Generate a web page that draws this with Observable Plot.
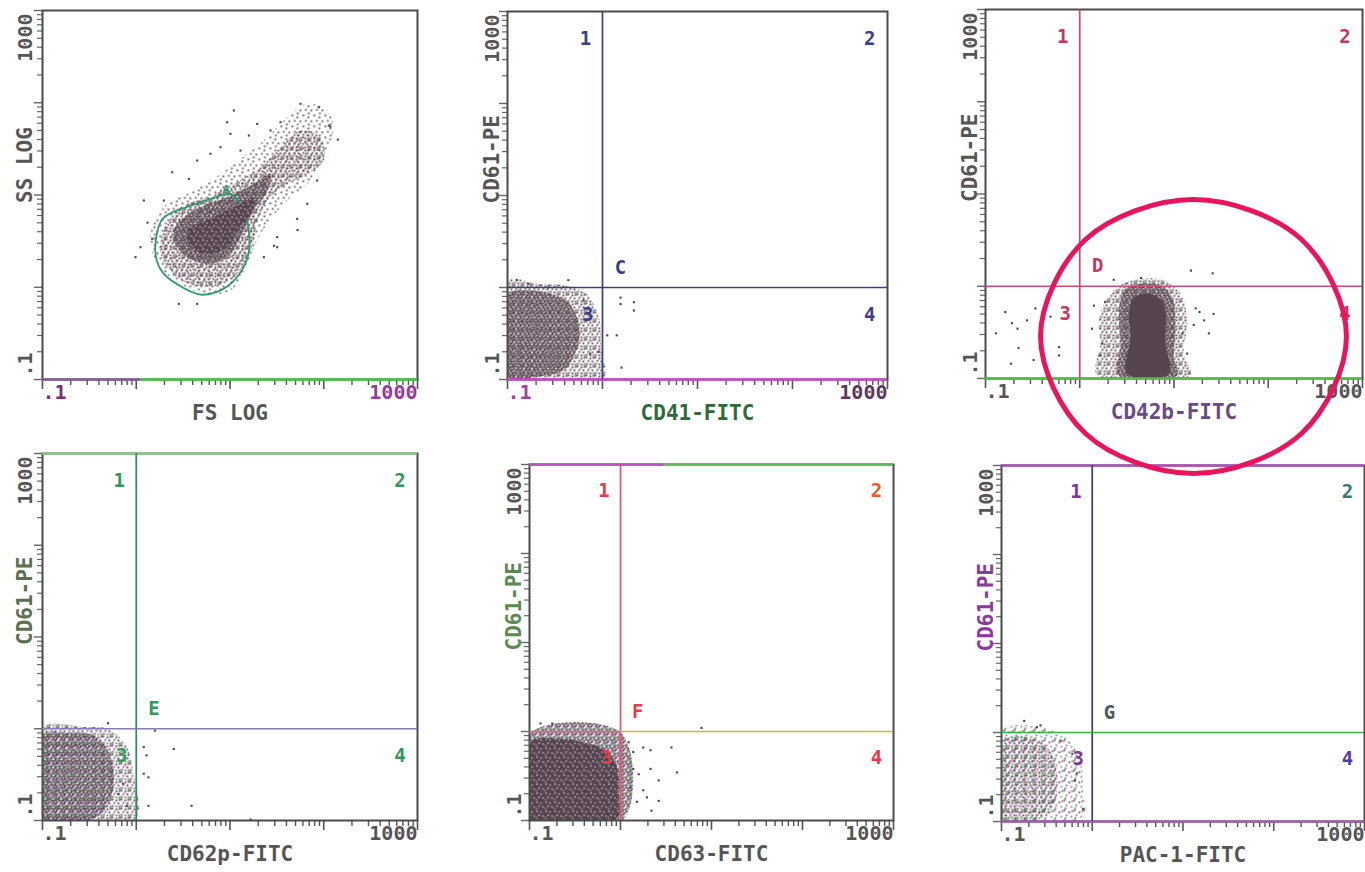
<!DOCTYPE html>
<html><head><meta charset="utf-8">
<script src="https://cdn.jsdelivr.net/npm/d3@7"></script>
<script src="https://cdn.jsdelivr.net/npm/@observablehq/plot@0.6"></script>
<style>
html,body{margin:0;padding:0;background:#fff;overflow:hidden;}
#wrap{position:relative;width:1365px;height:872px;}
</style></head><body>
<svg width="0" height="0" style="position:absolute;left:0;top:0">
<defs>
<pattern id="pSparse" width="11" height="11" patternUnits="userSpaceOnUse">
 <g fill="#5a4651">
  <rect x="0" y="0" width="1.7" height="1.7"/><rect x="5" y="2" width="1.7" height="1.7"/>
  <rect x="2.5" y="5.5" width="1.7" height="1.7"/><rect x="8" y="6" width="1.7" height="1.7"/>
  <rect x="5.5" y="9" width="1.7" height="1.7"/>
 </g>
</pattern>
<pattern id="pMed" width="9" height="9" patternUnits="userSpaceOnUse">
 <g fill="#5a4651">
  <rect x="0" y="0" width="1.8" height="1.8"/><rect x="4" y="1" width="1.8" height="1.8"/>
  <rect x="7" y="0.5" width="1.8" height="1.8"/><rect x="2" y="3.5" width="1.8" height="1.8"/>
  <rect x="6" y="4" width="1.8" height="1.8"/><rect x="0.5" y="6.5" width="1.8" height="1.8"/>
  <rect x="4" y="7" width="1.8" height="1.8"/><rect x="7.2" y="7.2" width="1.6" height="1.6"/>
 </g>
</pattern>
<pattern id="pDenseS" width="8" height="8" patternUnits="userSpaceOnUse">
 <g fill="#54424d">
  <rect x="0" y="0" width="1.9" height="1.9"/><rect x="2" y="1" width="1.9" height="1.9"/>
  <rect x="4" y="0" width="1.9" height="1.9"/><rect x="6" y="1.5" width="1.9" height="1.9"/>
  <rect x="1" y="3" width="1.9" height="1.9"/><rect x="3" y="3.5" width="1.9" height="1.9"/>
  <rect x="5" y="3" width="1.9" height="1.9"/><rect x="7" y="4" width="1" height="1.9"/>
  <rect x="0" y="5.5" width="1.9" height="1.9"/><rect x="2.5" y="5.5" width="1.9" height="1.9"/>
  <rect x="4.5" y="6" width="1.9" height="1.9"/><rect x="6.5" y="6.3" width="1.5" height="1.7"/>
 </g>
</pattern>
<pattern id="pCore" width="9" height="9" patternUnits="userSpaceOnUse">
 <rect width="9" height="9" fill="#564450"/>
 <g fill="#fff">
  <rect x="1" y="1" width="1.2" height="1.2"/><rect x="5" y="2" width="1.1" height="1.1"/>
  <rect x="3" y="5" width="1.2" height="1.2"/><rect x="7" y="6" width="1.1" height="1.1"/>
  <rect x="0.5" y="7.5" width="1" height="1"/>
 </g>
</pattern>
<pattern id="pDenseC" width="8" height="8" patternUnits="userSpaceOnUse">
  <g fill="#54424d">
  <rect x="0" y="0" width="1.9" height="1.9"/><rect x="2" y="1" width="1.9" height="1.9"/>
  <rect x="4" y="0" width="1.9" height="1.9"/><rect x="6" y="1.5" width="1.9" height="1.9"/>
  <rect x="3" y="3.5" width="1.9" height="1.9"/><rect x="5" y="3" width="1.9" height="1.9"/>
  <rect x="0" y="5.5" width="1.9" height="1.9"/><rect x="4.5" y="6" width="1.9" height="1.9"/>
  </g>
  <rect x="1" y="3" width="1.9" height="1.9" fill="#9a4aa8"/><rect x="2.5" y="5.5" width="1.9" height="1.9" fill="#4a9a52"/>
  <rect x="6.5" y="6.3" width="1.5" height="1.7" fill="#7a4a88"/>
</pattern>
<pattern id="pMedC" width="9" height="9" patternUnits="userSpaceOnUse">
  <rect x="0" y="0" width="1.8" height="1.8" fill="#5a4651"/><rect x="4" y="1" width="1.8" height="1.8" fill="#5a4651"/>
  <rect x="7" y="0.5" width="1.8" height="1.8" fill="#5a4651"/><rect x="2" y="3.5" width="1.8" height="1.8" fill="#9a4aa8"/>
  <rect x="6" y="4" width="1.8" height="1.8" fill="#5a4651"/><rect x="0.5" y="6.5" width="1.8" height="1.8" fill="#5a4651"/>
  <rect x="4" y="7" width="1.8" height="1.8" fill="#4a9a52"/><rect x="7.2" y="7.2" width="1.6" height="1.6" fill="#5a4651"/>
</pattern>
<pattern id="pSparseC" width="10" height="10" patternUnits="userSpaceOnUse">
  <rect x="0" y="0" width="1.7" height="1.7" fill="#5a4651"/><rect x="5" y="2" width="1.7" height="1.7" fill="#5a4651"/>
  <rect x="2" y="5" width="1.7" height="1.7" fill="#a850b0"/><rect x="7" y="6.5" width="1.7" height="1.7" fill="#50a858"/>
  <rect x="1" y="8" width="1.6" height="1.6" fill="#6a4a78"/><rect x="8" y="1" width="1.5" height="1.5" fill="#5a4651"/>
</pattern>
</defs></svg>
<div id="wrap"></div>
<script>
// ---------- DATA (values as log10 of channel value) ----------
const axisDomain = [0.1, 1000];
const xTickText = [".1", "1000"];
const xTitles = ["FS LOG", "CD41-FITC", "CD42b-FITC", "CD62p-FITC", "CD63-FITC", "PAC-1-FITC"];
const yTitles = ["SS LOG", "CD61-PE", "CD61-PE", "CD61-PE", "CD61-PE", "CD61-PE"];
const quadNumbers = ["1", "2", "3", "4"];
const gateLetters = ["C", "D", "E", "F", "G"];
const quadThresholdX = [1, 1, 1, 1, 1];
const quadThresholdY = [1, 1, 1, 1, 1];

// Panel 1: FS LOG vs SS LOG (density regions + stray events)
const p1Outer = [[0.152,0.615],[0.330,0.905],[0.614,1.049],[0.899,1.230],[1.183,1.447],[1.397,1.627],[1.610,1.843],[1.824,1.989],[2.037,1.916],[2.107,1.735],[2.001,1.409],[1.824,1.120],[1.610,0.940],[1.397,0.688],[1.254,0.434],[1.183,0.217],[1.005,-0.035],[0.721,-0.071],[0.365,0.109],[0.187,0.326]];
const p1Mid = [[0.294,0.615],[0.472,0.868],[0.757,0.976],[1.041,1.120],[1.325,1.301],[1.539,1.518],[1.752,1.699],[1.965,1.627],[2.001,1.374],[1.824,1.229],[1.610,1.120],[1.397,0.940],[1.290,0.688],[1.219,0.398],[1.041,0.109],[0.757,0.001],[0.437,0.109],[0.259,0.362]];
const p1Dense = [[0.437,0.688],[0.685,0.868],[0.970,0.976],[1.254,1.120],[1.432,1.230],[1.397,1.049],[1.254,0.832],[1.147,0.615],[1.005,0.362],[0.792,0.254],[0.543,0.326],[0.401,0.507]];
const p1Core = [[0.543,0.615],[0.827,0.759],[1.112,0.905],[1.254,0.976],[1.219,0.795],[1.076,0.615],[0.970,0.434],[0.757,0.362],[0.579,0.434]];
const p1Gate = [[0.22,0.58],[0.28,0.74],[0.40,0.82],[0.54,0.87],[0.83,0.97],[1.01,1.01],[1.13,0.87],[1.20,0.62],[1.19,0.33],[1.04,0.07],[0.86,-0.05],[0.69,-0.08],[0.51,-0.01],[0.29,0.15],[0.21,0.33]];
const p1Dots = [[1.041,1.916],[0.970,1.789],[1.290,1.771],[1.201,1.645],[1.005,1.663],[0.792,1.447],[0.650,1.374],[0.383,1.247],[0.561,1.175],[0.081,0.940],[0.045,0.434],[-0.008,0.326],[0.454,-0.180],[0.650,-0.180],[1.717,0.741],[1.503,0.543],[1.824,0.905],[1.930,1.157],[2.054,1.753],[1.947,1.952],[1.752,1.989],[1.539,1.789],[1.432,1.699],[1.112,1.482],[0.899,1.518],[0.294,0.940],[0.170,0.525],[1.503,0.434],[1.361,0.326],[1.47,0.45],[1.72,0.62],[2.07,1.74],[2.15,1.60],[0.12,0.70]];
const p1GateLabel = [[0.96,1.06]];

// Panel 2: CD41-FITC vs CD61-PE
const p2Halo = [[-0.99,0.08],[-0.69,0.04],[-0.38,0.02],[-0.17,-0.07],[-0.04,-0.32],[-0.01,-0.68],[0.01,-0.99],[-0.99,-1.0]];
const p2Core = [[-0.99,-0.07],[-0.76,-0.03],[-0.55,-0.07],[-0.38,-0.14],[-0.27,-0.32],[-0.24,-0.54],[-0.31,-0.76],[-0.41,-0.90],[-0.69,-0.97],[-0.99,-0.97]];
const p2Dots = [[0.19,-0.11],[0.19,-0.18],[0.33,-0.16],[0.33,-0.25],[0.15,-0.52],[0.05,-0.52],[0.20,-0.87],[-0.04,-0.70],[-0.13,-0.72],[-0.36,0.08],[-0.57,0.0],[-0.78,0.04],[-0.90,0.08],[-0.2,-0.14],[-0.18,-0.29]];

// Panel 3: CD42b-FITC vs CD61-PE
const p3Halo = [[0.255,-0.190],[0.432,0.010],[0.645,0.081],[0.892,0.062],[1.069,-0.082],[1.140,-0.371],[1.104,-0.732],[1.175,-0.967],[0.185,-0.967],[0.220,-0.624],[0.202,-0.407]];
const p3Dense = [[0.468,-0.046],[0.645,0.027],[0.857,0.008],[0.981,-0.119],[1.016,-0.444],[0.998,-0.769],[1.034,-0.967],[0.415,-0.967],[0.432,-0.624],[0.415,-0.299]];
const p3Core = [[0.574,-0.119],[0.751,-0.082],[0.892,-0.190],[0.910,-0.624],[0.945,-0.949],[0.503,-0.949],[0.538,-0.552],[0.521,-0.299]];
const p3Dots = [[-0.79,-0.28],[-0.72,-0.40],[-0.66,-0.46],[-0.89,-0.51],[-0.56,-0.37],[-0.47,-0.24],[-0.31,-0.33],[-0.22,-0.66],[-0.22,-0.75],[-0.65,-0.67],[-0.73,-0.84],[-0.49,-0.80],[0.15,-0.21],[0.27,-0.17],[0.13,-0.46],[0.36,0.07],[0.65,0.09],[1.18,0.17],[1.41,0.14],[1.23,-0.24],[1.27,-0.28],[1.42,-0.30],[1.21,-0.42],[1.37,-0.51],[1.32,-0.37],[1.09,-0.51],[1.14,-0.73],[0.22,-0.75],[0.24,-0.62],[0.79,-0.86]];
const p3Circle = [[2.83,-0.545],[2.353,0.507],[1.207,0.94],[0.061,0.507],[-0.416,-0.545],[0.061,-1.596],[1.207,-2.03],[2.353,-1.596]];

// Panel 4: CD62p-FITC vs CD61-PE
const p4Halo = [[-0.99,0.02],[-0.57,0.02],[-0.28,-0.01],[-0.10,-0.20],[-0.03,-0.49],[-0.01,-0.99],[-0.99,-0.99]];
const p4Core = [[-0.99,-0.06],[-0.74,-0.04],[-0.49,-0.06],[-0.32,-0.20],[-0.24,-0.49],[-0.28,-0.78],[-0.42,-0.96],[-0.99,-0.99]];
const p4Dots = [[-0.30,0.06],[0.08,-0.20],[0.11,-0.29],[0.40,-0.22],[0.08,-0.49],[0.13,-0.53],[0.59,-0.84],[0.13,-0.84],[1.22,-0.99],[-0.10,-0.84],[-0.19,-0.71],[-0.14,-0.60],[0.20,-0.02]];

// Panel 5: CD63-FITC vs CD61-PE
const p5Halo = [[-0.99,-0.02],[0.01,-0.02],[0.03,-0.99],[-0.99,-1.0]];
const p5Core = [[-0.99,-0.12],[-0.70,-0.08],[-0.41,-0.12],[-0.17,-0.21],[-0.04,-0.40],[-0.02,-0.70],[-0.04,-0.98],[-0.99,-0.99]];
const p5Dots = [[0.09,-0.12],[0.14,-0.23],[0.25,-0.18],[0.33,-0.21],[0.56,-0.18],[0.14,-0.42],[0.20,-0.48],[0.33,-0.42],[0.62,-0.46],[0.42,-0.55],[0.25,-0.66],[0.29,-0.74],[0.18,-0.79],[0.42,-0.78],[0.34,-0.89],[-0.75,0.09],[-0.88,0.09],[0.89,0.04],[0.11,-0.63]];

// Panel 6: PAC-1-FITC vs CD61-PE
const p6Halo = [[-0.99,0.03],[-0.57,0.06],[-0.28,-0.07],[-0.13,-0.31],[-0.10,-0.65],[-0.11,-0.99],[-0.99,-1.0]];
const p6Core = [[-0.97,-0.09],[-0.72,-0.05],[-0.50,-0.16],[-0.39,-0.46],[-0.42,-0.80],[-0.57,-0.97],[-0.99,-0.99]];
const p6Dots = [[-0.75,0.13],[-0.61,0.06],[-0.57,0.08],[-0.10,-0.86],[-0.19,-0.54],[-0.17,-0.46],[-0.22,-0.24],[-0.35,-0.09]];

// ---------- LAYOUT / STYLE ----------
const FONT = "DejaVu Sans Mono";
const decadeTicks = [0.1, 1, 10, 100, 1000];
const minorTicks = [0.1, 1, 10, 100].flatMap(b => [2,3,4,5,6,7,8,9].map(k => +(b * k).toPrecision(3)));
const quadLabelPos = [[0.66, 500], [650, 500], [0.70, 0.5], [650, 0.5], [1.55, 1.65]];
const DOT = "#55424e";
const SOLID = "#564450";

const panels = [
  {i:0, L:42, T:10, R:417, B:379, mb:56, ydx:-17,
   layers:[{data:p1Outer, fill:"url(#pSparse)"},{data:p1Mid, fill:"url(#pMed)"},{data:p1Dense, fill:"url(#pDenseS)"},{data:p1Gate, fill:"none", stroke:"#2f9a6a", sw:1.8},{data:p1Core, fill:"url(#pCore)"}],
   dots:p1Dots, edges:[{y:0.1,x1:0.1,x2:1.1,stroke:"#8a5a9a"},{y:0.1,x1:1.1,x2:1000,stroke:"#4cc04c"}],
   xTitleColor:"#555", yTitleColor:"#555", xTickColors:["#7a2f7a","#9a3a9a"], yTickColor:"#555"},
  {i:1, L:507, T:11, R:887, B:379, mb:56, ydx:-15,
   layers:[{data:p2Halo, fill:"url(#pMed)"},{data:p2Core, fill:"url(#pDenseS)"}],
   dots:p2Dots, edges:[{y:0.1,x1:0.1,x2:1000,stroke:"#c44cc4"}],
   quadV:"#3b3d8c", quadH:[{x1:0.1,x2:1000,stroke:"#3b3d8c"}], labelColors:["#3b3d8c","#3b3d8c","#3b3d8c","#3b3d8c","#3b3d8c"],
   xTitleColor:"#2f6a3a", yTitleColor:"#555", xTickColors:["#a040a0","#5a3a5a"], yTickColor:"#555"},
  {i:2, L:985, T:9, R:1362, B:378, mb:102, ydx:-15, z:3,
   layers:[{data:p3Halo, fill:"url(#pMed)"},{data:p3Dense, fill:"url(#pDenseS)"},{data:p3Core, fill:SOLID}],
   dots:p3Dots, edges:[{y:0.1,x1:0.1,x2:1000,stroke:"#4cc43c"}],
   quadV:"#cc4a72", quadH:[{x1:0.1,x2:1000,stroke:"#cc4a72"}], labelColors:["#c8365e","#c8365e","#c8365e","#c8365e","#c8365e"],
   xTitleColor:"#6a4a86", yTitleColor:"#555", xTickColors:["#555","#555"], yTickColor:"#555", overlay:p3Circle},
  {i:3, L:42, T:453, R:417, B:820, mb:56, ydx:-17,
   layers:[{data:p4Halo, fill:"url(#pMedC)"},{data:p4Core, fill:"url(#pDenseC)"}],
   dots:p4Dots, edges:[{y:1000,x1:0.1,x2:1000,stroke:"#8ac88a"}],
   quadV:"#2a8a5e", quadH:[{x1:0.1,x2:1000,stroke:"#8a7ab8"}], labelColors:["#2e9a5c","#2e9a5c","#2e9a5c","#2e9a5c","#2e9a5c"],
   xTitleColor:"#555", yTitleColor:"#5a7050", xTickColors:["#555","#555"], yTickColor:"#555"},
  {i:4, L:529, T:464, R:893, B:820, mb:56, ydx:-15,
   layers:[{data:p5Halo, fill:"url(#pDenseC)"},{data:p5Core, fill:"url(#pCore)"}],
   dots:p5Dots, edges:[{y:1000,x1:0.1,x2:3,stroke:"#c050c0"},{y:1000,x1:3,x2:1000,stroke:"#5cbc5c"}],
   quadV:"#e8506e", quadH:[{x1:0.1,x2:1,stroke:"#e8608e"},{x1:1,x2:1000,stroke:"#ddb030"}], labelColors:["#e8384a","#e85a2a","#e8384a","#e8384a","#e8384a"],
   xTitleColor:"#555", yTitleColor:"#5a8a50", xTickColors:["#555","#555"], yTickColor:"#555"},
  {i:5, L:1001, T:465, R:1364, B:821, mb:56, ydx:-15,
   layers:[{data:p6Halo, fill:"url(#pSparseC)"},{data:p6Core, fill:"url(#pMedC)"}],
   dots:p6Dots, edges:[{y:1000,x1:0.1,x2:1000,stroke:"#b050c0"},{y:0.1,x1:0.1,x2:1000,stroke:"#a060b0"}],
   quadV:"#3a3a80", quadH:[{x1:0.1,x2:1000,stroke:"#3cb04a"}], labelColors:["#7a3a9a","#3a7a6a","#7a3a9a","#5a3aa0","#4a5a5a"],
   xTitleColor:"#555", yTitleColor:"#8a3a9a", xTickColors:["#555","#555"], yTickColor:"#555"}
];

const X = d => 10 ** d[0], Y = d => 10 ** d[1];
const F = {fontFamily: FONT, fontWeight: "bold"};
const ML = 48, MT = 6, MR = 3;

function makePanel(c) {
  const marks = [];
  for (const l of c.layers) {
    marks.push(Plot.line(l.data, {x: X, y: Y, curve: "catmull-rom-closed", fill: l.fill, stroke: l.stroke || "none", strokeWidth: l.sw || 1, clip: true}));
  }
  marks.push(Plot.dot(c.dots, {x: X, y: Y, symbol: "square", r: 1.2, fill: DOT, stroke: "none", clip: true}));
  marks.push(Plot.axisX({ticks: minorTicks, tickSize: 6, tickFormat: () => "", label: null, stroke: "#555", strokeWidth: 1.4}));
  marks.push(Plot.axisX({ticks: decadeTicks, tickSize: 10, tickFormat: () => "", label: null, stroke: "#555", strokeWidth: 1.6}));
  marks.push(Plot.axisY({ticks: minorTicks, tickSize: 5, tickFormat: () => "", label: null, stroke: "#666", strokeWidth: 1.2}));
  marks.push(Plot.axisY({ticks: decadeTicks, tickSize: 8, tickFormat: () => "", label: null, stroke: "#666", strokeWidth: 1.4}));
  marks.push(Plot.frame({stroke: "#4b4b4b", strokeWidth: 2}));
  marks.push(Plot.ruleY(c.edges, {y: "y", x1: "x1", x2: "x2", stroke: "stroke", strokeWidth: 2.6}));
  if (c.quadV) {
    const k = c.i - 1;
    marks.push(Plot.ruleX([quadThresholdX[k]], {stroke: c.quadV, strokeWidth: 1.7}));
    marks.push(Plot.ruleY(c.quadH.map(s => ({...s, y: quadThresholdY[k]})), {y: "y", x1: "x1", x2: "x2", stroke: "stroke", strokeWidth: 1.7}));
    const labs = quadNumbers.concat([gateLetters[k]]).map((t, j) => ({t, x: quadLabelPos[j][0], y: quadLabelPos[j][1], c: c.labelColors[j]}));
    marks.push(Plot.text(labs, {x: "x", y: "y", text: "t", fill: "c", fontSize: 19, ...F}));
  }
  if (c.i === 0) {
    marks.push(Plot.text(p1GateLabel, {x: X, y: Y, text: () => "A", fill: "#2f9a6a", fontSize: 13, ...F}));
  }
  marks.push(Plot.text([axisDomain[0]], {x: d => d, text: () => xTickText[0], frameAnchor: "bottom", textAnchor: "start", dy: 19, fontSize: 20, fill: c.xTickColors[0], ...F}));
  marks.push(Plot.text([axisDomain[1]], {x: d => d, text: () => xTickText[1], frameAnchor: "bottom", textAnchor: "end", dy: 19, fontSize: 20, fill: c.xTickColors[1], ...F}));
  marks.push(Plot.text([axisDomain[0]], {y: d => d, text: () => xTickText[0], frameAnchor: "left", rotate: -90, textAnchor: "start", dx: c.ydx, dy: -3, fontSize: 20, fill: c.yTickColor, ...F}));
  marks.push(Plot.text([axisDomain[1]], {y: d => d, text: () => xTickText[1], frameAnchor: "left", rotate: -90, textAnchor: "end", dx: c.ydx, dy: 3, fontSize: 20, fill: c.yTickColor, ...F}));
  marks.push(Plot.text([xTitles[c.i]], {text: d => d, frameAnchor: "bottom", dy: 40, fontSize: 21, fill: c.xTitleColor, ...F}));
  marks.push(Plot.text([yTitles[c.i]], {text: d => d, frameAnchor: "left", rotate: -90, dx: c.ydx, dy: 8, fontSize: 21, fill: c.yTitleColor, ...F}));
  if (c.overlay) {
    marks.push(Plot.line(c.overlay, {x: X, y: Y, curve: "catmull-rom-closed", stroke: "#e8155e", strokeWidth: 5, fill: "none"}));
  }
  const svg = Plot.plot({
    width: c.R - c.L + ML + MR,
    height: c.B - c.T + MT + c.mb,
    marginLeft: ML, marginRight: MR, marginTop: MT, marginBottom: c.mb,
    x: {type: "log", domain: axisDomain, label: null},
    y: {type: "log", domain: axisDomain, label: null},
    color: {type: "identity"},
    style: {background: "transparent", overflow: "visible"},
    marks
  });
  svg.style.position = "absolute";
  svg.style.left = (c.L - ML) + "px";
  svg.style.top = (c.T - MT) + "px";
  svg.style.maxWidth = "none";
  if (c.z) svg.style.zIndex = c.z;
  return svg;
}

const wrap = document.getElementById("wrap");
for (const c of panels) wrap.appendChild(makePanel(c));
</script>
</body></html>
